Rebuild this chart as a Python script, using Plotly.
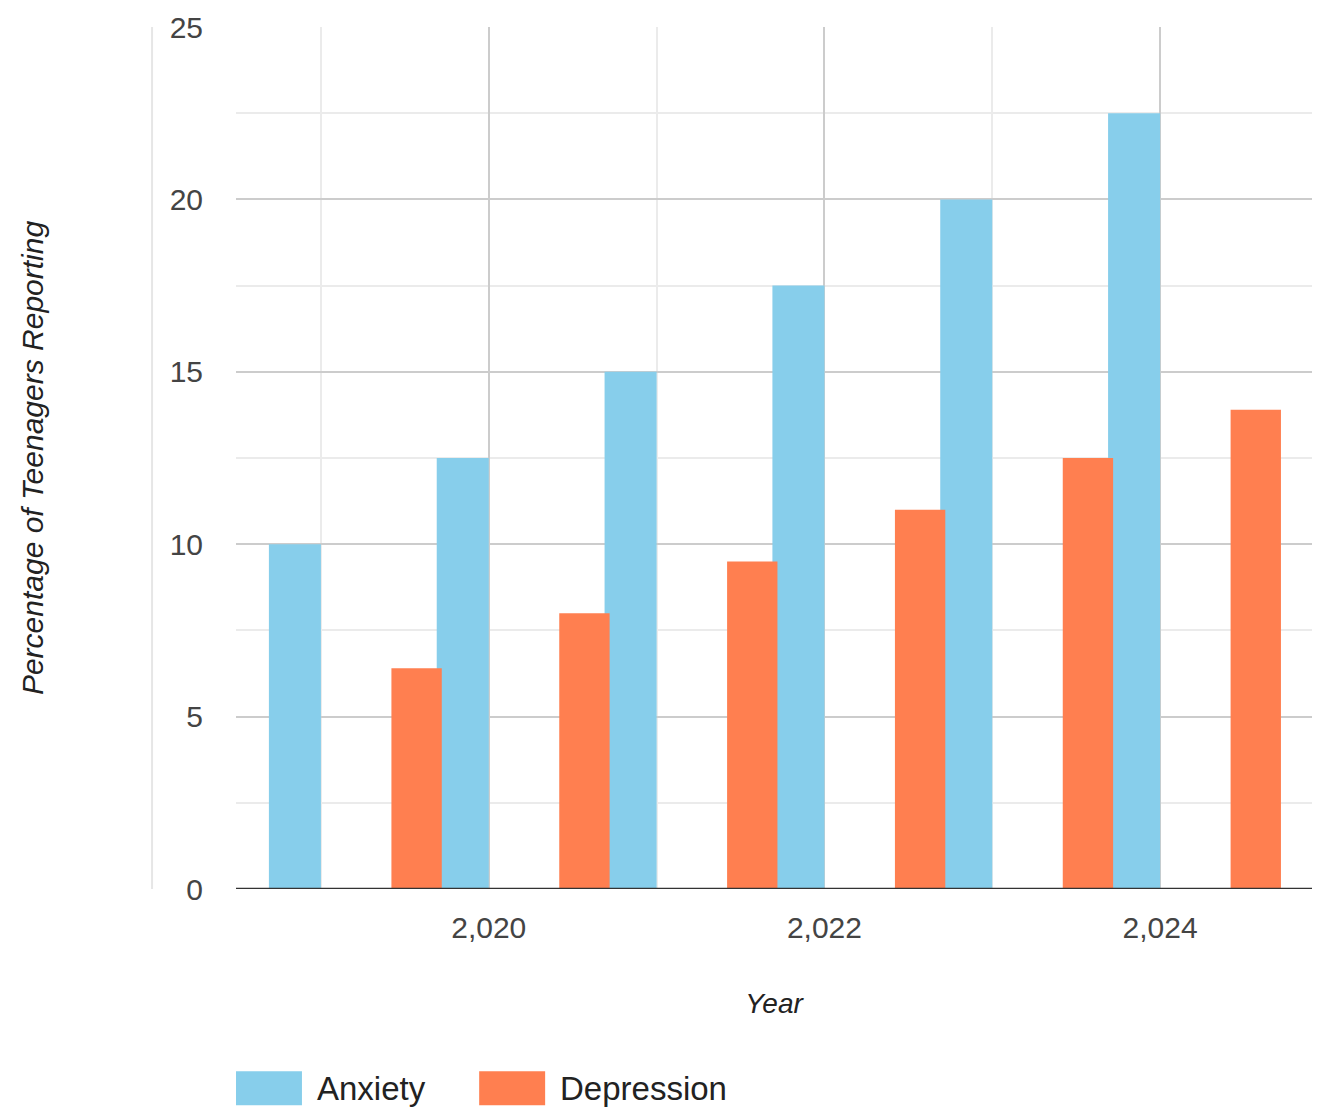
import plotly.graph_objects as go

years = [2019, 2020, 2021, 2022, 2023, 2024]
anxiety = [10.0, 12.5, 15.0, 17.5, 20.0, 22.5]
depression = [6.4, 8.0, 9.5, 11.0, 12.5, 13.9]
series_names = ["Anxiety", "Depression"]
colors = ["#87CEEB", "#FF7F50"]

FONT = "Liberation Sans, Arial, sans-serif"

fig = go.Figure()
fig.add_trace(go.Bar(x=years, y=anxiety, name=series_names[0], marker_color=colors[0],
                     width=0.31, offset=-0.31, marker_line_width=0, showlegend=False))
fig.add_trace(go.Bar(x=years, y=depression, name=series_names[1], marker_color=colors[1],
                     width=0.30, offset=0.42, marker_line_width=0, showlegend=False))

fig.update_layout(
    width=1319, height=1109,
    margin=dict(l=236, r=7, t=27, b=220),
    paper_bgcolor="white", plot_bgcolor="white",
    barmode="overlay",
    font=dict(family=FONT, color="#444444"),
    xaxis=dict(
        range=[2018.494, 2024.905],
        tickmode="linear", tick0=2020, dtick=2,
        tickformat=",d",
        showgrid=True, gridcolor="#cccccc", gridwidth=2,
        minor=dict(dtick=1, tick0=2019, showgrid=True, gridcolor="#ebebeb", gridwidth=2),
        zeroline=False, showline=False,
        ticks="", ticklabelstandoff=18,
        tickfont=dict(size=30, color="#444444"),
        title=dict(text="<i>Year</i>", font=dict(size=28, color="#222222"), standoff=50),
        fixedrange=True,
    ),
    yaxis=dict(
        range=[0, 25],
        tickmode="linear", tick0=0, dtick=5,
        showgrid=True, gridcolor="#cccccc", gridwidth=2,
        minor=dict(dtick=2.5, showgrid=True, gridcolor="#ebebeb", gridwidth=2),
        zeroline=False, showline=False,
        ticks="", ticklabelstandoff=32,
        tickfont=dict(size=30, color="#444444"),
        title=dict(text="<i>Percentage of Teenagers Reporting</i>", font=dict(size=30, color="#222222"),
                   standoff=117),
        fixedrange=True,
    ),
)

# baseline
fig.add_shape(type="line", xref="paper", yref="y", x0=0, x1=1, y0=0, y1=0,
              line=dict(color="#333333", width=2.5))
# faint vertical axis line left of tick labels
fig.add_shape(type="line", xref="paper", yref="paper", x0=-0.078, x1=-0.078, y0=0, y1=1,
              line=dict(color="#e6e6e6", width=2))

# manual legend
leg_x = [0.0, 0.226]
for i, name in enumerate(series_names):
    fig.add_shape(type="rect", xref="paper", yref="paper",
                  x0=leg_x[i], x1=leg_x[i] + 0.0613, y0=-0.2113, y1=-0.2508,
                  fillcolor=colors[i], line=dict(width=0))
    fig.add_annotation(xref="paper", yref="paper", x=leg_x[i] + 0.073, y=-0.231,
                       text=name, showarrow=False, xanchor="left", yanchor="middle",
                       font=dict(size=33, color="#222222", family=FONT))

fig.write_html("out.html", config={"displayModeBar": False},
               post_script="document.body.style.margin='0';")
